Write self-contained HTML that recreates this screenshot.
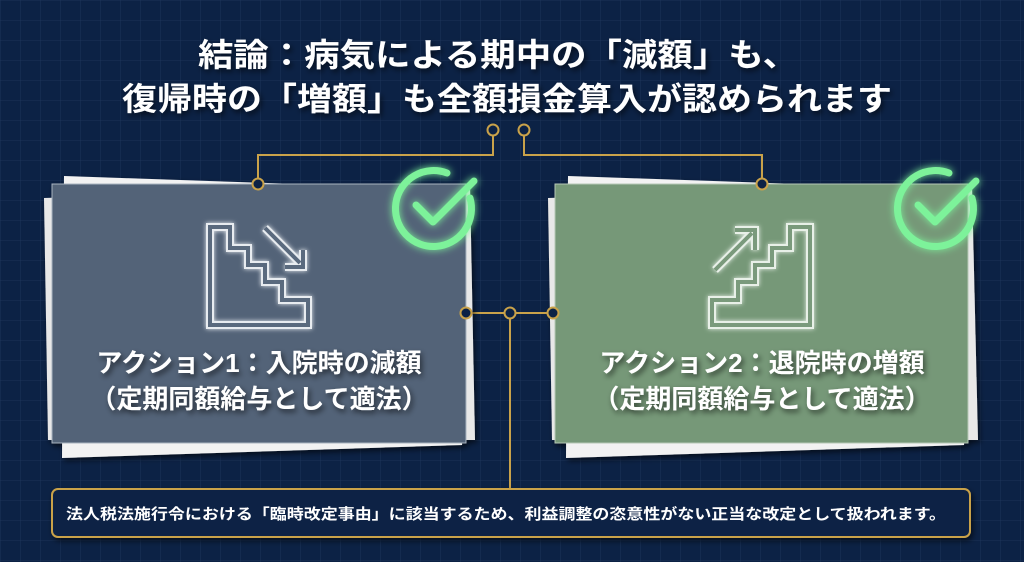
<!DOCTYPE html>
<html><head><meta charset="utf-8"><style>
html,body{margin:0;padding:0}
body{width:1024px;height:562px;overflow:hidden;background:#0c2245;font-family:"Liberation Sans","Noto Sans CJK JP",sans-serif}
</style></head><body>
<svg width="1024" height="562" viewBox="0 0 1024 562" xmlns="http://www.w3.org/2000/svg" style="display:block">
<defs>
<pattern id="g" width="20" height="20" patternUnits="userSpaceOnUse">
<path d="M20 0H0V20" fill="none" stroke="#2a4268" stroke-width="0.8" opacity="0.7"/>
</pattern>
<filter id="sh" x="-20%" y="-20%" width="140%" height="140%"><feDropShadow dx="2" dy="3" stdDeviation="3" flood-color="#000" flood-opacity="0.6"/></filter>
<filter id="glow" x="-50%" y="-50%" width="200%" height="200%"><feGaussianBlur stdDeviation="4" result="b"/><feMerge><feMergeNode in="b"/><feMergeNode in="SourceGraphic"/></feMerge></filter>
<filter id="wg" x="-30%" y="-30%" width="160%" height="160%"><feGaussianBlur stdDeviation="2.5" result="b"/><feMerge><feMergeNode in="b"/><feMergeNode in="SourceGraphic"/></feMerge></filter>
</defs>
<rect width="1024" height="562" fill="#0c2245"/>
<rect width="1024" height="562" fill="url(#g)"/>

<g font-weight="bold" fill="#fff" font-size="32" filter="url(#sh)">
<text x="198" y="66" textLength="600" lengthAdjust="spacingAndGlyphs">結論：病気による期中の「減額」も、</text>
<text x="122" y="110" textLength="770" lengthAdjust="spacingAndGlyphs">復帰時の「増額」も全額損金算入が認められます</text>
</g>

<g stroke="#c9a24a" stroke-width="2" fill="none">
<path d="M493 136V155H258V178"/>
<path d="M524 136V155H762V178"/>
<path d="M472 313H547"/>
<path d="M510 319V489"/>
</g>

<g filter="url(#sh)">
<polygon points="64,176 470,190 462,445 62,458" fill="#f2f2f2"/>
<polygon points="44,198 470,186 475,440 48,440" fill="#e8e8e8"/>
<rect x="52" y="184" width="414" height="259" fill="#536478" stroke="#aab4c0" stroke-width="1"/>
</g>
<g fill="none" stroke="#e8ecf0" stroke-width="8" filter="url(#wg)">
<path d="M210 227H230V248H248V265H265V282H282V300H308V325H210Z"/>
<path d="M265 228L300 263M285 267H303V250"/>
</g>
<g fill="none" stroke="#5a6a7e" stroke-width="4">
<path d="M210 227H230V248H248V265H265V282H282V300H308V325H210Z"/>
<path d="M265 228L300 263M285 267H303V250"/>
</g>

<g filter="url(#sh)">
<polygon points="568,176 972,190 964,445 566,458" fill="#f2f2f2"/>
<polygon points="548,198 972,186 978,440 552,440" fill="#e8e8e8"/>
<rect x="555" y="184" width="413" height="259" fill="#769878" stroke="#b6c8b6" stroke-width="1"/>
</g>
<g fill="none" stroke="#e8f0e8" stroke-width="8" filter="url(#wg)">
<path d="M810 227H790V248H772V265H755V282H738V300H712V325H810Z"/>
<path d="M715 270L752 233M735 230H755V250"/>
</g>
<g fill="none" stroke="#7a9a7c" stroke-width="4">
<path d="M810 227H790V248H772V265H755V282H738V300H712V325H810Z"/>
<path d="M715 270L752 233M735 230H755V250"/>
</g>

<g fill="none" stroke="#7df29a" stroke-width="7" stroke-linecap="round" stroke-linejoin="round" filter="url(#glow)">
<path d="M470 198A38 38 0 1 1 447 173"/>
<path d="M416 205L433 222L474 181"/>
<path d="M972 198A38 38 0 1 1 949 173"/>
<path d="M918 205L935 222L976 181"/>
</g>

<g fill="#0c2245" stroke="#c9a24a" stroke-width="2">
<circle cx="493" cy="130" r="5.5"/>
<circle cx="524" cy="130" r="5.5"/>
<circle cx="258" cy="184" r="5.5"/>
<circle cx="762" cy="184" r="5.5"/>
<circle cx="466" cy="313" r="5.5"/>
<circle cx="510" cy="313" r="5.5"/>
<circle cx="553" cy="313" r="5.5"/>
</g>

<g font-weight="bold" fill="#fff" font-size="26" text-anchor="middle" filter="url(#sh)">
<text x="259" y="372">アクション1：入院時の減額</text>
<text x="259" y="408">（定期同額給与として適法）</text>
<text x="762" y="372">アクション2：退院時の増額</text>
<text x="762" y="408">（定期同額給与として適法）</text>
</g>

<rect x="52" y="489" width="918" height="48" rx="6" fill="#0c2245" stroke="#c9a24a" stroke-width="2" filter="url(#sh)"/>
<text x="66" y="519" font-size="15" font-weight="bold" fill="#fff" textLength="880" lengthAdjust="spacingAndGlyphs">法人税法施行令における「臨時改定事由」に該当するため、利益調整の恣意性がない正当な改定として扱われます。</text>
</svg>
</body></html>
